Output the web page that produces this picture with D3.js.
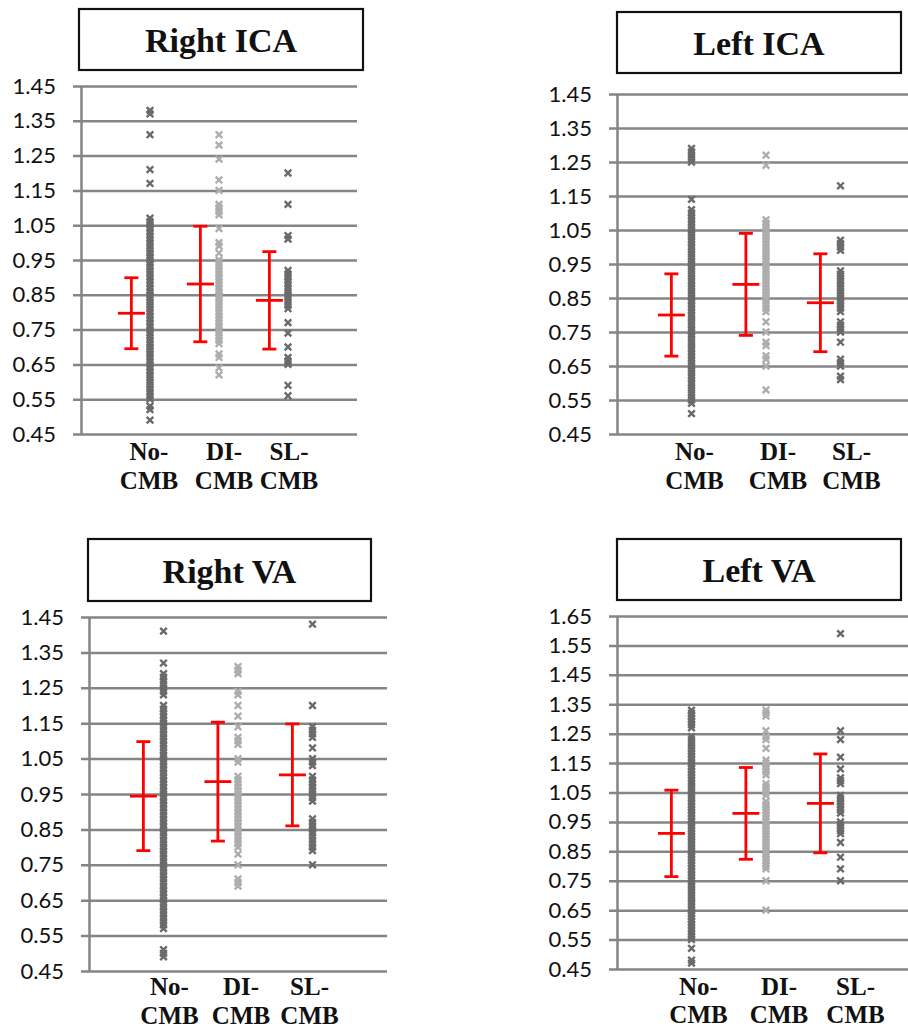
<!DOCTYPE html>
<html>
<head>
<meta charset="utf-8">
<script src="https://cdn.jsdelivr.net/npm/d3@7"></script>
<style>
body { margin: 0; background: white; }
</style>
</head>
<body>
<script>
const largeur = 908;
const hauteur = 1028;

const categories = [["No-", "CMB"], ["DI-", "CMB"], ["SL-", "CMB"]];
const titres = ["Right ICA", "Left ICA", "Right VA", "Left VA"];

const graduations145 = [0.45, 0.55, 0.65, 0.75, 0.85, 0.95, 1.05, 1.15, 1.25, 1.35, 1.45];
const graduations165 = [0.45, 0.55, 0.65, 0.75, 0.85, 0.95, 1.05, 1.15, 1.25, 1.35, 1.45, 1.55, 1.65];

// Right ICA
const rightIcaNo = [1.38, 1.37, 1.31, 1.21, 1.17, 1.07, 1.06, 1.05, 1.04, 1.03, 1.02, 1.01, 1.00, 0.99, 0.98, 0.97, 0.96, 0.95, 0.94, 0.93, 0.92, 0.91, 0.90, 0.89, 0.88, 0.87, 0.86, 0.85, 0.84, 0.83, 0.82, 0.81, 0.80, 0.79, 0.78, 0.77, 0.76, 0.75, 0.74, 0.73, 0.72, 0.71, 0.70, 0.69, 0.68, 0.67, 0.66, 0.65, 0.64, 0.63, 0.62, 0.61, 0.60, 0.59, 0.58, 0.57, 0.56, 0.55, 0.53, 0.52, 0.49];
const rightIcaDi = [1.31, 1.28, 1.24, 1.18, 1.15, 1.11, 1.10, 1.09, 1.08, 1.04, 1.00, 0.99, 0.97, 0.95, 0.94, 0.93, 0.92, 0.91, 0.90, 0.89, 0.88, 0.87, 0.86, 0.85, 0.84, 0.83, 0.82, 0.81, 0.80, 0.79, 0.78, 0.77, 0.76, 0.75, 0.74, 0.73, 0.72, 0.71, 0.68, 0.67, 0.64, 0.62];
const rightIcaSl = [1.20, 1.11, 1.02, 1.01, 0.92, 0.91, 0.90, 0.89, 0.88, 0.87, 0.86, 0.85, 0.84, 0.83, 0.82, 0.81, 0.77, 0.74, 0.70, 0.67, 0.66, 0.65, 0.59, 0.56];
const rightIcaMoyennes = [0.797, 0.881, 0.834];
const rightIcaEcarts = [0.102, 0.166, 0.140];

// Left ICA
const leftIcaNo = [1.29, 1.28, 1.27, 1.26, 1.25, 1.14, 1.11, 1.10, 1.09, 1.08, 1.07, 1.06, 1.05, 1.04, 1.03, 1.02, 1.01, 1.00, 0.99, 0.98, 0.97, 0.96, 0.95, 0.94, 0.93, 0.92, 0.91, 0.90, 0.89, 0.88, 0.87, 0.86, 0.85, 0.84, 0.83, 0.82, 0.81, 0.80, 0.79, 0.78, 0.77, 0.76, 0.75, 0.74, 0.73, 0.72, 0.71, 0.70, 0.69, 0.68, 0.67, 0.66, 0.65, 0.64, 0.63, 0.62, 0.61, 0.60, 0.59, 0.58, 0.57, 0.56, 0.55, 0.54, 0.51];
const leftIcaDi = [1.27, 1.24, 1.08, 1.07, 1.06, 1.05, 1.04, 1.03, 1.02, 1.01, 1.00, 0.99, 0.98, 0.97, 0.96, 0.95, 0.94, 0.93, 0.92, 0.91, 0.90, 0.89, 0.88, 0.87, 0.86, 0.85, 0.84, 0.83, 0.82, 0.81, 0.78, 0.75, 0.72, 0.71, 0.68, 0.67, 0.65, 0.58];
const leftIcaSl = [1.18, 1.02, 1.01, 1.00, 0.99, 0.93, 0.92, 0.91, 0.90, 0.89, 0.88, 0.87, 0.86, 0.85, 0.84, 0.83, 0.82, 0.81, 0.78, 0.77, 0.76, 0.75, 0.72, 0.67, 0.66, 0.65, 0.62, 0.61];
const leftIcaMoyennes = [0.800, 0.890, 0.836];
const leftIcaEcarts = [0.121, 0.150, 0.144];

// Right VA
const rightVaNo = [1.41, 1.32, 1.29, 1.28, 1.27, 1.26, 1.25, 1.24, 1.23, 1.20, 1.19, 1.18, 1.17, 1.16, 1.15, 1.14, 1.13, 1.12, 1.11, 1.10, 1.09, 1.08, 1.07, 1.06, 1.05, 1.04, 1.03, 1.02, 1.01, 1.00, 0.99, 0.98, 0.97, 0.96, 0.95, 0.94, 0.93, 0.92, 0.91, 0.90, 0.89, 0.88, 0.87, 0.86, 0.85, 0.84, 0.83, 0.82, 0.81, 0.80, 0.79, 0.78, 0.77, 0.76, 0.75, 0.74, 0.73, 0.72, 0.71, 0.70, 0.69, 0.68, 0.67, 0.66, 0.65, 0.64, 0.63, 0.62, 0.61, 0.60, 0.59, 0.58, 0.57, 0.51, 0.50, 0.49];
const rightVaDi = [1.31, 1.30, 1.29, 1.24, 1.23, 1.20, 1.17, 1.14, 1.11, 1.10, 1.09, 1.05, 1.04, 1.00, 0.99, 0.98, 0.97, 0.96, 0.95, 0.94, 0.93, 0.92, 0.91, 0.90, 0.89, 0.88, 0.87, 0.86, 0.85, 0.84, 0.83, 0.82, 0.81, 0.80, 0.78, 0.75, 0.71, 0.70, 0.69];
const rightVaSl = [1.43, 1.20, 1.14, 1.13, 1.12, 1.11, 1.08, 1.05, 1.04, 1.03, 1.00, 0.99, 0.98, 0.97, 0.96, 0.95, 0.94, 0.93, 0.88, 0.87, 0.86, 0.85, 0.84, 0.83, 0.82, 0.81, 0.80, 0.79, 0.75];
const rightVaMoyennes = [0.944, 0.985, 1.004];
const rightVaEcarts = [0.154, 0.168, 0.144];

// Left VA
const leftVaNo = [1.33, 1.32, 1.31, 1.30, 1.29, 1.28, 1.27, 1.24, 1.23, 1.22, 1.21, 1.20, 1.19, 1.18, 1.17, 1.16, 1.15, 1.14, 1.13, 1.12, 1.11, 1.10, 1.09, 1.08, 1.07, 1.06, 1.05, 1.04, 1.03, 1.02, 1.01, 1.00, 0.99, 0.98, 0.97, 0.96, 0.95, 0.94, 0.93, 0.92, 0.91, 0.90, 0.89, 0.88, 0.87, 0.86, 0.85, 0.84, 0.83, 0.82, 0.81, 0.80, 0.79, 0.78, 0.77, 0.76, 0.75, 0.74, 0.73, 0.72, 0.71, 0.70, 0.69, 0.68, 0.67, 0.66, 0.65, 0.64, 0.63, 0.62, 0.61, 0.60, 0.59, 0.58, 0.57, 0.56, 0.55, 0.52, 0.48, 0.47];
const leftVaDi = [1.33, 1.32, 1.31, 1.26, 1.24, 1.23, 1.20, 1.16, 1.15, 1.14, 1.13, 1.12, 1.11, 1.08, 1.07, 1.06, 1.05, 1.04, 1.02, 1.01, 1.00, 0.99, 0.98, 0.97, 0.96, 0.95, 0.94, 0.93, 0.92, 0.91, 0.90, 0.89, 0.88, 0.87, 0.86, 0.85, 0.84, 0.83, 0.82, 0.81, 0.80, 0.79, 0.75, 0.65];
const leftVaSl = [1.59, 1.26, 1.23, 1.17, 1.13, 1.10, 1.09, 1.08, 1.04, 1.03, 1.02, 1.01, 1.00, 0.99, 0.98, 0.95, 0.94, 0.93, 0.92, 0.91, 0.88, 0.83, 0.79, 0.75];
const leftVaMoyennes = [0.911, 0.979, 1.013];
const leftVaEcarts = [0.147, 0.156, 0.168];

const couleurs = ["#6a6a6a", "#adadad", "#6a6a6a"];
const gris = "#858585";

// mise en page de chaque panneau
const panneaux = [
    { titre: titres[0], graduations: graduations145, series: [rightIcaNo, rightIcaDi, rightIcaSl],
      moyennes: rightIcaMoyennes, ecarts: rightIcaEcarts,
      x0: 81, x1: 357, yHaut: 86, yBas: 434,
      boite: [79, 9, 284, 61], baseTitre: 52, baseLabels: [460, 489], decalages: [-1, 5, 1] },
    { titre: titres[1], graduations: graduations145, series: [leftIcaNo, leftIcaDi, leftIcaSl],
      moyennes: leftIcaMoyennes, ecarts: leftIcaEcarts,
      x0: 617, x1: 915, yHaut: 94, yBas: 434,
      boite: [617, 12, 284, 61], baseTitre: 55, baseLabels: [460, 489], decalages: [3, 12, 11] },
    { titre: titres[2], graduations: graduations145, series: [rightVaNo, rightVaDi, rightVaSl],
      moyennes: rightVaMoyennes, ecarts: rightVaEcarts,
      x0: 89, x1: 387, yHaut: 617, yBas: 971,
      boite: [88, 539, 283, 62], baseTitre: 583, baseLabels: [995, 1024], decalages: [6, 3, -3] },
    { titre: titres[3], graduations: graduations165, series: [leftVaNo, leftVaDi, leftVaSl],
      moyennes: leftVaMoyennes, ecarts: leftVaEcarts,
      x0: 617, x1: 915, yHaut: 616, yBas: 969,
      boite: [617, 539, 284, 61], baseTitre: 582, baseLabels: [995, 1023], decalages: [7, 13, 15] }
];

const svg = d3
.select("body")
.append("svg")
.attr("width", largeur)
.attr("height", hauteur)
.style("background", "white");

const typeSymbole = d3.symbolTimes ? d3.symbolTimes : d3.symbolCross;
const symbole = d3.symbol().type(typeSymbole).size(30);

panneaux.forEach(function(p)
{
    dessiner(p);
});

function dessiner(p)
{
    const graduations = p.graduations;

    const x = d3.scaleLinear()
    .domain([0, 4])
    .range([p.x0, p.x1]);

    const y = d3.scaleLinear()
    .domain([graduations[0], graduations[graduations.length - 1]])
    .range([p.yBas, p.yHaut]);

    // titre encadre
    svg.append("rect")
    .attr("x", p.boite[0])
    .attr("y", p.boite[1])
    .attr("width", p.boite[2])
    .attr("height", p.boite[3])
    .attr("fill", "white")
    .attr("stroke", "#111")
    .attr("stroke-width", 2.2);

    svg.append("text")
    .attr("x", p.boite[0] + p.boite[2] / 2)
    .attr("y", p.baseTitre)
    .attr("text-anchor", "middle")
    .style("font-family", "'Liberation Serif', 'Times New Roman', serif")
    .style("font-weight", "bold")
    .style("font-size", "34px")
    .style("fill", "#111")
    .text(p.titre);

    // axe vertical et lignes de grille
    const axe = svg.append("g")
    .attr("transform", "translate(" + p.x0 + ",0)")
    .call(d3.axisLeft(y)
        .tickValues(graduations)
        .tickFormat(d3.format(".2f"))
        .tickSizeInner(-(p.x1 - p.x0))
        .tickSizeOuter(0)
        .tickPadding(25));

    axe.select(".domain")
    .attr("stroke", gris)
    .attr("stroke-width", 2.5);

    axe.selectAll(".tick line")
    .attr("x1", -8)
    .attr("stroke", gris)
    .attr("stroke-width", 2.5);

    axe.selectAll(".tick text")
    .style("font-family", "Lato, 'Open Sans', sans-serif")
    .style("font-size", "22px")
    .style("fill", "#111");

    // nuages de points
    p.series.forEach(function(valeurs, k)
    {
        svg.append("g")
        .selectAll("path")
        .data(valeurs)
        .enter()
        .append("path")
        .attr("d", symbole)
        .attr("transform", function(d)
        {
            return "translate(" + x(k + 1) + "," + y(d) + ")";
        })
        .attr("fill", "none")
        .attr("stroke", couleurs[k])
        .attr("stroke-width", 2.4);
    });

    // barres d'erreur
    p.moyennes.forEach(function(m, k)
    {
        const e = p.ecarts[k];
        const cx = x(k + 1 - 0.27);
        const g = svg.append("g")
        .attr("stroke", "#ff0000")
        .attr("stroke-width", 2.8);

        g.append("line")
        .attr("x1", cx).attr("x2", cx)
        .attr("y1", y(m - e)).attr("y2", y(m + e));

        g.append("line")
        .attr("x1", cx - 7).attr("x2", cx + 7)
        .attr("y1", y(m + e)).attr("y2", y(m + e));

        g.append("line")
        .attr("x1", cx - 7).attr("x2", cx + 7)
        .attr("y1", y(m - e)).attr("y2", y(m - e));

        g.append("line")
        .attr("x1", cx - 13.5).attr("x2", cx + 13.5)
        .attr("y1", y(m)).attr("y2", y(m));
    });

    // etiquettes des categories
    categories.forEach(function(c, k)
    {
        const t = svg.append("text")
        .attr("text-anchor", "middle")
        .style("font-family", "'Liberation Serif', 'Times New Roman', serif")
        .style("font-weight", "bold")
        .style("font-size", "25px")
        .style("fill", "#111");

        c.forEach(function(ligne, i)
        {
            t.append("tspan")
            .attr("x", x(k + 1) + p.decalages[k])
            .attr("y", p.baseLabels[i])
            .text(ligne);
        });
    });
}
</script>
</body>
</html>
